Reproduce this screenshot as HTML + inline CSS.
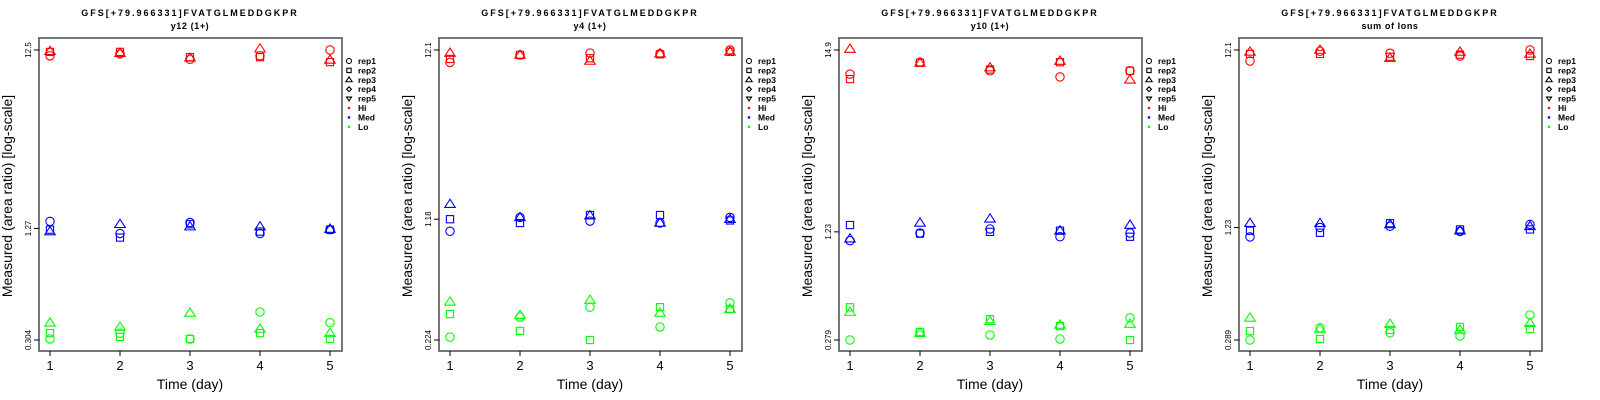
<!DOCTYPE html>
<html><head><meta charset="utf-8"><style>
html,body{margin:0;padding:0;background:#fff;}
svg{display:block;font-family:"Liberation Sans",sans-serif;}
</style></head><body>
<svg id="chart" width="1600" height="400" viewBox="0 0 1600 400" xmlns="http://www.w3.org/2000/svg"></svg>
<script>
const days = [1, 2, 3, 4, 5];
const panelTitles = ["y12 (1+)", "y4 (1+)", "y10 (1+)", "sum of Ions"];
const peptide = "GFS[+79.966331]FVATGLMEDDGKPR";
const yMins = [0.304, 0.224, 0.279, 0.289];
const yMaxs = [12.5, 12.1, 14.9, 12.1];
const yMids = [1.27, 1.18, 1.23, 1.23];
const yTickLabels = [["0.304","1.27","12.5"],["0.224","1.18","12.1"],["0.279","1.23","14.9"],["0.289","1.23","12.1"]];
const groups = ["Hi", "Med", "Lo"];
const groupColors = ["#ff0000", "#0000ff", "#00ff00"];
const reps = ["rep1", "rep2", "rep3"];
// values per panel, per group, per rep, per day
const p1Hi  = [[11.6,11.9,11.1,11.6,12.5],[12.2,12.2,11.4,11.4,10.7],[12.3,12.0,11.3,12.7,11.0]];
const p1Med = [[1.39,1.19,1.37,1.19,1.25],[1.25,1.13,1.34,1.22,1.25],[1.22,1.34,1.30,1.30,1.26]];
const p1Lo  = [[0.308,0.332,0.308,0.435,0.379],[0.332,0.316,0.308,0.332,0.308],[0.379,0.359,0.43,0.350,0.332]];
const p2Hi  = [[10.2,11.3,11.6,11.5,12.1],[10.7,11.3,10.8,11.4,11.8],[11.6,11.3,10.4,11.5,11.8]];
const p2Med = [[1.00,1.21,1.15,1.12,1.21],[1.18,1.12,1.25,1.25,1.16],[1.45,1.21,1.24,1.12,1.18]];
const p2Lo  = [[0.233,0.307,0.352,0.268,0.373],[0.320,0.254,0.224,0.352,0.343],[0.378,0.315,0.388,0.325,0.343]];
const p3Hi  = [[10.7,12.6,11.2,10.3,11.2],[10.0,12.5,11.4,12.6,11.2],[15.1,12.5,11.7,12.8,9.9]];
const p3Med = [[1.09,1.21,1.28,1.15,1.21],[1.35,1.20,1.23,1.25,1.15],[1.12,1.39,1.47,1.25,1.35]];
const p3Lo  = [[0.279,0.311,0.299,0.283,0.378],[0.437,0.311,0.371,0.338,0.279],[0.409,0.306,0.361,0.343,0.347]];
const p4Hi  = [[10.5,11.9,11.6,11.2,12.1],[11.5,11.5,11.1,11.4,11.2],[11.8,12.1,10.9,11.8,11.5]];
const p4Med = [[1.09,1.23,1.25,1.17,1.28],[1.18,1.15,1.30,1.20,1.20],[1.30,1.30,1.28,1.18,1.25]];
const p4Lo  = [[0.289,0.338,0.317,0.304,0.399],[0.324,0.293,0.329,0.342,0.333],[0.384,0.333,0.355,0.329,0.359]];
const panelData = [[p1Hi,p1Med,p1Lo],[p2Hi,p2Med,p2Lo],[p3Hi,p3Med,p3Lo],[p4Hi,p4Med,p4Lo]];
const legendLabels = ["rep1","rep2","rep3","rep4","rep5","Hi","Med","Lo"];

const NS = "http://www.w3.org/2000/svg";
const svg = document.getElementById("chart");
function mk(tag, attrs, parent, text) {
  const e = document.createElementNS(NS, tag);
  for (const k in attrs) e.setAttribute(k, attrs[k]);
  if (text !== undefined) e.textContent = text;
  parent.appendChild(e);
  return e;
}
function drawSymbol(g, shape, cx, cy, color, s) {
  let e;
  if (shape === 0) e = mk("circle", {cx: cx, cy: cy, r: 4.2*s, fill: "none", stroke: color, "stroke-width": 1.1}, g);
  else if (shape === 1) e = mk("rect", {x: cx-3.6*s, y: cy-3.6*s, width: 7.2*s, height: 7.2*s, fill: "none", stroke: color, "stroke-width": 1.1}, g);
  else if (shape === 2) { const h = 5*s; e = mk("polygon", {points: `${cx},${cy-h} ${cx+h*1.05},${cy+h*0.65} ${cx-h*1.05},${cy+h*0.65}`, fill: "none", stroke: color, "stroke-width": 1.1}, g); }
  else if (shape === 3) { const h = 4*s; e = mk("polygon", {points: `${cx},${cy-h} ${cx+h},${cy} ${cx},${cy+h} ${cx-h},${cy}`, fill: "none", stroke: color, "stroke-width": 1.1}, g); }
  else { const h = 4*s; e = mk("polygon", {points: `${cx},${cy+h} ${cx+h*1.05},${cy-h*0.65} ${cx-h*1.05},${cy-h*0.65}`, fill: "none", stroke: color, "stroke-width": 1.1}, g); }
  return e;
}

for (let p = 0; p < 4; p++) {
  const ox = p * 400;
  const g = mk("g", {transform: `translate(${ox},0)`}, svg);
  
  
  const lmin = Math.log(yMins[p]), lmax = Math.log(yMaxs[p]);
  const yScale = v => 340 - (Math.log(v) - lmin) / (lmax - lmin) * 290;
  const xScale = d => 50 + (d - 1) * 70;

  const t1 = mk("text", {x: 190, y: 16, "text-anchor": "middle", "font-size": 9, "font-weight": "bold", "letter-spacing": "2.0"}, g, peptide);
  
  
  const t2 = mk("text", {x: 190, y: 29, "text-anchor": "middle", "font-size": 9, "font-weight": "bold", "letter-spacing": "0.6"}, g, panelTitles[p]);
  
  

  const box = mk("rect", {x: 39, y: 38, width: 303, height: 313, fill: "none", stroke: "#555", "stroke-width": 1.6}, g);
  
  

  const yTickVals = [yMins[p], yMids[p], yMaxs[p]];
  for (let i = 0; i < 3; i++) {
    const y = yScale(yTickVals[i]);
    const tk = mk("line", {x1: 34, x2: 39, y1: y, y2: y, stroke: "#000", "stroke-width": 1}, g);
    
    
    const tl = mk("text", {x: 0, y: 0, transform: `translate(31,${y}) rotate(-90)`, "text-anchor": "middle", "font-size": 8}, g, yTickLabels[p][i]);
    
    
  }
  for (let i = 0; i < days.length; i++) {
    const x = xScale(days[i]);
    const tk = mk("line", {x1: x, x2: x, y1: 351, y2: 356, stroke: "#000", "stroke-width": 1}, g);
    
    
    const tl = mk("text", {x: x, y: 370, "text-anchor": "middle", "font-size": 13}, g, String(days[i]));
    
    
  }
  const xt = mk("text", {x: 190, y: 389, "text-anchor": "middle", "font-size": 14}, g, "Time (day)");
  
  
  const yt = mk("text", {x: 0, y: 0, transform: "translate(12,196) rotate(-90)", "text-anchor": "middle", "font-size": 14}, g, "Measured (area ratio) [log-scale]");
  
  

  for (let gi = 0; gi < groups.length; gi++) {
    for (let r = 0; r < reps.length; r++) {
      const vals = panelData[p][gi][r];
      for (let d = 0; d < days.length; d++) {
        const pt = drawSymbol(g, r, xScale(days[d]), yScale(vals[d]), groupColors[gi], 1);
        
        
      }
    }
  }

  const lg = mk("g", {}, g);
  
  
  for (let i = 0; i < legendLabels.length; i++) {
    const y = 61 + i * 9.4;
    let sym;
    if (i < 5) sym = drawSymbol(lg, i, 349, y, "#000", 0.6);
    else sym = mk("circle", {cx: 349, cy: y, r: 1.3, fill: groupColors[i-5]}, lg);
    
    
    const lt = mk("text", {x: 358, y: y + 3, "font-size": 8.5, "font-weight": "bold"}, lg, legendLabels[i]);
    
    
  }
}
</script>
</body></html>
